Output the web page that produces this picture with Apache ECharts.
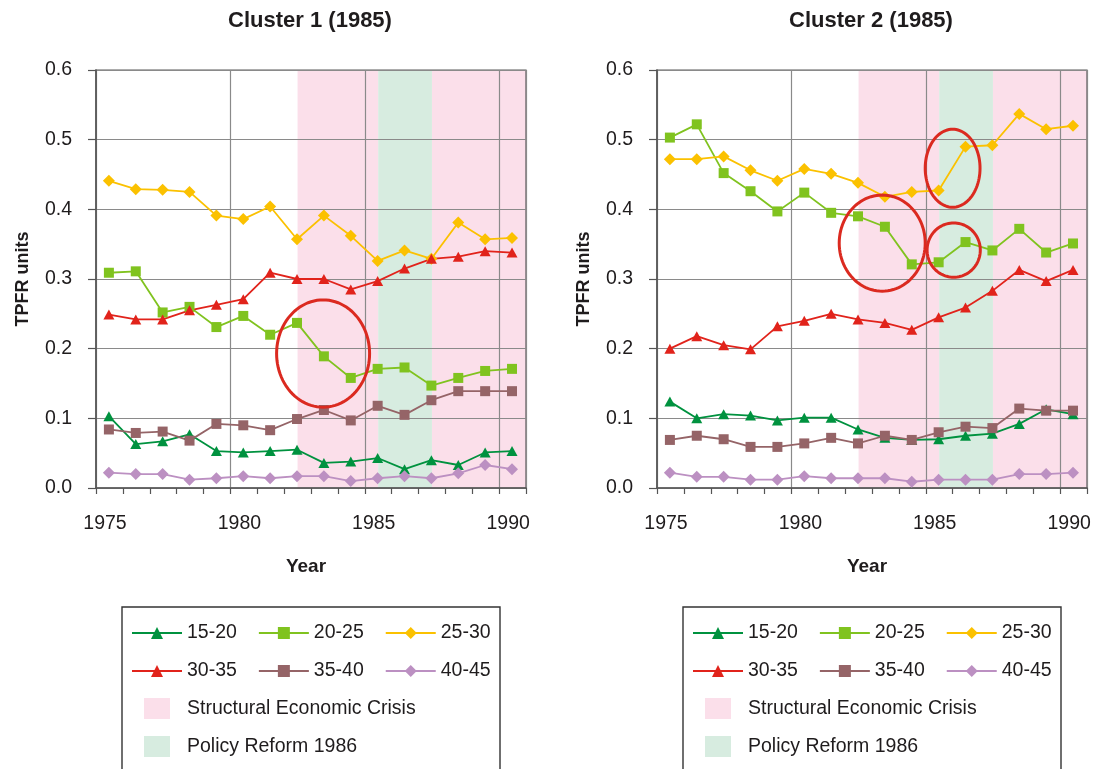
<!DOCTYPE html>
<html>
<head>
<meta charset="utf-8">
<script src="https://cdn.jsdelivr.net/npm/echarts@6/dist/echarts.min.js"></script>
<style>
  html, body { margin: 0; padding: 0; background: #fff; }
  #chart { width: 1096px; height: 769px; }
</style>
</head>
<body>
<div id="chart"></div>
<script>
// ---- data -------------------------------------------------------------
const years = [1975, 1976, 1977, 1978, 1979, 1980, 1981, 1982,
               1983, 1984, 1985, 1986, 1987, 1988, 1989, 1990];
const clusterTitles = ['Cluster 1 (1985)', 'Cluster 2 (1985)'];
const ageGroups = ['15-20', '20-25', '25-30', '30-35', '35-40', '40-45'];

// Cluster 1, TPFR units by age group
const c1_15_20 = [0.103, 0.063, 0.067, 0.077, 0.053, 0.051, 0.053, 0.055, 0.036, 0.038, 0.043, 0.027, 0.040, 0.033, 0.051, 0.053];
const c1_20_25 = [0.309, 0.311, 0.252, 0.260, 0.231, 0.247, 0.220, 0.237, 0.189, 0.158, 0.171, 0.173, 0.147, 0.158, 0.168, 0.171];
const c1_25_30 = [0.441, 0.429, 0.428, 0.425, 0.391, 0.386, 0.404, 0.357, 0.391, 0.362, 0.326, 0.341, 0.329, 0.381, 0.357, 0.359];
const c1_30_35 = [0.249, 0.242, 0.242, 0.255, 0.263, 0.271, 0.309, 0.300, 0.300, 0.285, 0.297, 0.315, 0.329, 0.332, 0.340, 0.338];
const c1_35_40 = [0.084, 0.079, 0.081, 0.068, 0.092, 0.090, 0.083, 0.099, 0.112, 0.097, 0.118, 0.105, 0.126, 0.139, 0.139, 0.139];
const c1_40_45 = [0.022, 0.020, 0.020, 0.012, 0.014, 0.017, 0.014, 0.017, 0.017, 0.010, 0.014, 0.017, 0.014, 0.021, 0.033, 0.027];

// Cluster 2, TPFR units by age group
const c2_15_20 = [0.124, 0.100, 0.106, 0.104, 0.097, 0.101, 0.101, 0.084, 0.072, 0.069, 0.070, 0.075, 0.078, 0.092, 0.113, 0.106];
const c2_20_25 = [0.503, 0.522, 0.452, 0.426, 0.397, 0.424, 0.395, 0.390, 0.375, 0.321, 0.324, 0.353, 0.341, 0.372, 0.338, 0.351];
const c2_25_30 = [0.472, 0.472, 0.476, 0.456, 0.441, 0.458, 0.451, 0.438, 0.418, 0.425, 0.427, 0.490, 0.492, 0.537, 0.515, 0.520];
const c2_30_35 = [0.200, 0.218, 0.205, 0.199, 0.232, 0.240, 0.250, 0.242, 0.237, 0.227, 0.245, 0.259, 0.283, 0.313, 0.297, 0.313];
const c2_35_40 = [0.069, 0.075, 0.070, 0.059, 0.059, 0.064, 0.072, 0.064, 0.075, 0.069, 0.080, 0.088, 0.086, 0.114, 0.111, 0.111];
const c2_40_45 = [0.022, 0.016, 0.016, 0.012, 0.012, 0.017, 0.014, 0.014, 0.014, 0.009, 0.012, 0.012, 0.012, 0.020, 0.020, 0.022];

// Shaded periods (year ranges)
const crisisName = 'Structural Economic Crisis';
const reformName = 'Policy Reform 1986';
const crisisPeriods = [[1982.5, 1985.5], [1987.5, 1991]];
const reformPeriods = [[1985.5, 1987.5]];

// Highlight ellipses: [centre year, centre value, radius in years, radius in TPFR units]
const c1Highlights = [[1983.45, 0.193, 1.73, 0.077]];
const c2Highlights = [[1983.38, 0.3515, 1.60, 0.069],
                      [1986.0, 0.459, 1.02, 0.056],
                      [1986.04, 0.3415, 0.99, 0.039]];

// ---- styling / layout --------------------------------------------------
const FONT = '"Liberation Sans", Arial, Helvetica, sans-serif';
const TEXT = '#1f1c1d';
const POINT_OFFSET = 0.48;          // values are plotted mid-year
const X_MIN = 1975, X_MAX = 1991;
const PANEL_LEFT = [96, 657];
const PANEL_TOP = 70, PANEL_W = 430, PANEL_H = 418;
const PANEL_SHIFT = 561;

const groupStyle = {
  '15-20': { color: '#00923f', symbol: 'triangle', size: [11, 10] },
  '20-25': { color: '#80c31f', symbol: 'rect',     size: [10, 10] },
  '25-30': { color: '#fbc100', symbol: 'diamond',  size: [12, 12] },
  '30-35': { color: '#e1231b', symbol: 'triangle', size: [11, 10] },
  '35-40': { color: '#956467', symbol: 'rect',     size: [10, 10] },
  '40-45': { color: '#bc90c2', symbol: 'diamond',  size: [12, 12] }
};
const CRISIS_COLOR = '#fbdfea';
const REFORM_COLOR = '#d7ece0';
const RING_COLOR = '#db2a20';

const clusterData = [
  [c1_15_20, c1_20_25, c1_25_30, c1_30_35, c1_35_40, c1_40_45],
  [c2_15_20, c2_20_25, c2_25_30, c2_30_35, c2_35_40, c2_40_45]
];
const highlights = [c1Highlights, c2Highlights];

// ---- axes --------------------------------------------------------------
const grids = [], xAxes = [], yAxes = [], series = [];

PANEL_LEFT.forEach((left, p) => {
  grids.push({
    left: left, top: PANEL_TOP, width: PANEL_W, height: PANEL_H,
    show: true, borderColor: '#5a5a5a', borderWidth: 1.2, backgroundColor: 'transparent'
  });
  // main year axis: yearly ticks, labels every five years
  xAxes.push({
    type: 'value', gridIndex: p, position: 'bottom',
    min: X_MIN, max: X_MAX, interval: 1,
    name: 'Year', nameLocation: 'middle', nameGap: 69,
    nameTextStyle: { fontFamily: FONT, fontSize: 19, fontWeight: 'bold', color: TEXT, padding: [0, 10, 0, 0] },
    axisLine: { show: true, lineStyle: { color: '#555', width: 1.6 } },
    axisTick: { show: true, inside: false, length: 6, lineStyle: { color: '#555', width: 1.2 } },
    axisLabel: {
      margin: 26, fontFamily: FONT, fontSize: 19.5, color: TEXT, padding: [0, 0, 0, 18],
      formatter: v => (v % 5 === 0 && v < X_MAX) ? String(v) : ''
    },
    splitLine: { show: false }
  });
  // five-year vertical gridlines
  xAxes.push({
    type: 'value', gridIndex: p, position: 'top',
    min: X_MIN, max: X_MAX, interval: 5,
    axisLine: { show: false }, axisTick: { show: false }, axisLabel: { show: false },
    splitLine: { show: true, lineStyle: { color: '#8a8a8a', width: 1.2 } }
  });
  yAxes.push({
    type: 'value', gridIndex: p, min: 0, max: 0.6, interval: 0.1,
    name: 'TPFR units', nameLocation: 'middle', nameGap: 64, nameRotate: 90,
    nameTextStyle: { fontFamily: FONT, fontSize: 18, fontWeight: 'bold', color: TEXT },
    axisLine: { show: true, lineStyle: { color: '#555', width: 1.6 } },
    axisTick: { show: true, inside: false, length: 8, lineStyle: { color: '#555', width: 1.2 } },
    axisLabel: { margin: 24, fontFamily: FONT, fontSize: 19.5, color: TEXT, formatter: v => v.toFixed(1) },
    splitLine: { show: true, lineStyle: { color: '#8a8a8a', width: 1.2 } }
  });

  const xMain = p * 2;

  // shaded periods, drawn beneath the gridlines
  const bandSeries = (name, periods, color) => ({
    name: name, type: 'custom', xAxisIndex: xMain, yAxisIndex: p, z: -1,
    itemStyle: { color: color }, silent: true, clip: true,
    data: periods,
    renderItem: (params, api) => {
      const a = api.coord([api.value(0), 0.6]);
      const b = api.coord([api.value(1), 0]);
      return { type: 'rect', shape: { x: a[0], y: a[1], width: b[0] - a[0], height: b[1] - a[1] },
               style: { fill: color } };
    }
  });
  series.push(bandSeries(crisisName, crisisPeriods, CRISIS_COLOR));
  series.push(bandSeries(reformName, reformPeriods, REFORM_COLOR));

  // age-group lines
  ageGroups.forEach((g, k) => {
    const s = groupStyle[g];
    series.push({
      name: g, type: 'line', xAxisIndex: xMain, yAxisIndex: p,
      data: years.map((y, i) => [y + POINT_OFFSET, clusterData[p][k][i]]),
      symbol: s.symbol, symbolSize: s.size, showSymbol: true,
      lineStyle: { color: s.color, width: 1.8 },
      itemStyle: { color: s.color },
      emphasis: { disabled: true }, animation: false, z: 3
    });
  });

  // highlight rings
  series.push({
    name: 'highlight-' + p, type: 'custom', xAxisIndex: xMain, yAxisIndex: p, z: 5,
    silent: true, clip: false,
    data: highlights[p],
    renderItem: (params, api) => {
      const c = api.coord([api.value(0), api.value(1)]);
      const r = api.size([api.value(2), api.value(3)]);
      const pts = [];
      for (let i = 0; i < 96; i++) {
        const t = i / 96 * Math.PI * 2;
        pts.push([c[0] + r[0] * Math.cos(t), c[1] + r[1] * Math.sin(t)]);
      }
      return { type: 'polygon', shape: { points: pts },
               style: { fill: 'none', stroke: RING_COLOR, lineWidth: 3 } };
    }
  });
});

// ---- legends ------------------------------------------------------------
const legends = [];
const legendText = { fontFamily: FONT, fontSize: 19.5, color: TEXT };
[0, PANEL_SHIFT].forEach(dx => {
  legends.push({ data: ageGroups.slice(0, 3), left: 131 + dx, top: 623, itemWidth: 50, itemHeight: 15,
                 itemGap: 21, padding: 0, textStyle: legendText, selectedMode: false });
  legends.push({ data: ageGroups.slice(3, 6), left: 131 + dx, top: 661, itemWidth: 50, itemHeight: 15,
                 itemGap: 21, padding: 0, textStyle: legendText, selectedMode: false });
  legends.push({ data: [{ name: crisisName, icon: 'rect' }], left: 144 + dx, top: 698, itemWidth: 26, itemHeight: 21,
                 padding: 0, textStyle: Object.assign({ padding: [0, 0, 0, 12] }, legendText), selectedMode: false });
  legends.push({ data: [{ name: reformName, icon: 'rect' }], left: 144 + dx, top: 736, itemWidth: 26, itemHeight: 21,
                 padding: 0, textStyle: Object.assign({ padding: [0, 0, 0, 12] }, legendText), selectedMode: false });
});

// ---- titles and legend frames -----------------------------------------
const graphics = [];
clusterTitles.forEach((t, p) => {
  graphics.push({
    type: 'text', x: PANEL_LEFT[p] + PANEL_W / 2 - 1, y: 21,
    style: { text: t, fontFamily: FONT, fontSize: 22, fontWeight: 'bold', fill: TEXT,
             textAlign: 'center', textVerticalAlign: 'middle' }
  });
  graphics.push({
    type: 'rect', shape: { x: 122 + p * PANEL_SHIFT, y: 607, width: 378, height: 200 },
    style: { fill: 'none', stroke: '#333', lineWidth: 1.4 }
  });
});

const chart = echarts.init(document.getElementById('chart'), null, { renderer: 'canvas' });
chart.setOption({
  animation: false,
  backgroundColor: '#fff',
  textStyle: { fontFamily: FONT },
  grid: grids,
  xAxis: xAxes,
  yAxis: yAxes,
  legend: legends,
  graphic: graphics,
  series: series
});
</script>
</body>
</html>
